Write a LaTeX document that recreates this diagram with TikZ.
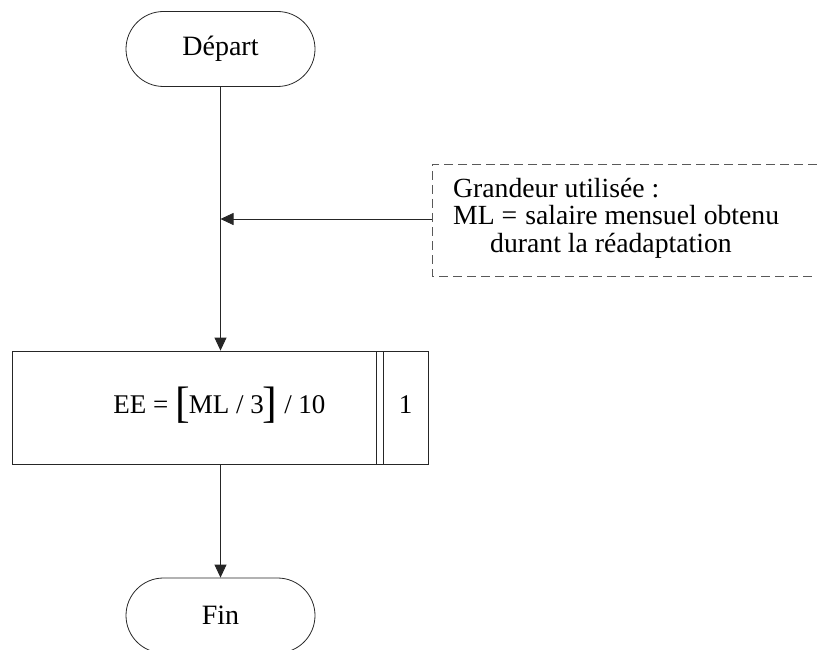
\documentclass[tikz,border=0pt]{standalone}
\usepackage{fontspec}
\setmainfont{Liberation Serif}
\usetikzlibrary{arrows.meta}
\begin{document}
\begin{tikzpicture}[x=1pt,y=-1pt,
  line/.style={draw=black!85, line width=0.8pt},
  txt/.style={font=\fontsize{27}{29}\selectfont, inner sep=0pt},
  ntxt/.style={font=\fontsize{27.7}{29}\selectfont, inner sep=0pt},
  term/.style={line, rounded corners=37.5pt, minimum width=189pt, minimum height=75pt, font=\fontsize{28}{29}\selectfont, inner sep=0pt},
  arr/.style={line, -{Triangle[length=13pt,width=12pt]}},
  dashline/.style={draw=black!65, line width=0.8pt, dash pattern=on 9pt off 5pt}
]
\newcommand{\bigbr}[1]{\raisebox{-4pt}{\fontsize{44}{44}\selectfont #1}}
\useasboundingbox (0,0) rectangle (817,650);
% terminals
\node[term] (dep) at (220.5,49) {Départ};
\node[term] (fin) at (220.5,615.5) {Fin};
% process box
\node[line, minimum width=415.6pt, minimum height=113pt, inner sep=0pt] (proc) at (220.5,407.5) {};
\draw[line] (376,351) -- (376,464);
\draw[line] (383,351) -- (383,464);
\node[txt, anchor=base] (eq) at (219.5,413.5) {EE = \bigbr{[}\hspace{-1pt}ML / 3\hspace{-1pt}\bigbr{]} / 10};
\node[txt, anchor=base] (num) at (405.5,413.5) {1};
% annotation
\draw[dashline] (817,164) -- (432,164) -- (432,276) -- (817,276);
\coordinate (nw) at (432,219);
\coordinate (jn) at (220.5,219);
\node[ntxt, anchor=base west] (g1) at (453,197.5) {Grandeur utilisée :};
\node[ntxt, anchor=base west] (g2) at (453,225) {ML =\hspace{8pt}salaire mensuel obtenu};
\node[ntxt, anchor=base west] (g3) at (490,252.5) {durant la réadaptation};
% connectors
\draw[arr] (dep.south) -- (proc.north);
\draw[arr] (nw) -- (jn);
\draw[arr] (proc.south) -- (fin.north);
\end{tikzpicture}
\end{document}
